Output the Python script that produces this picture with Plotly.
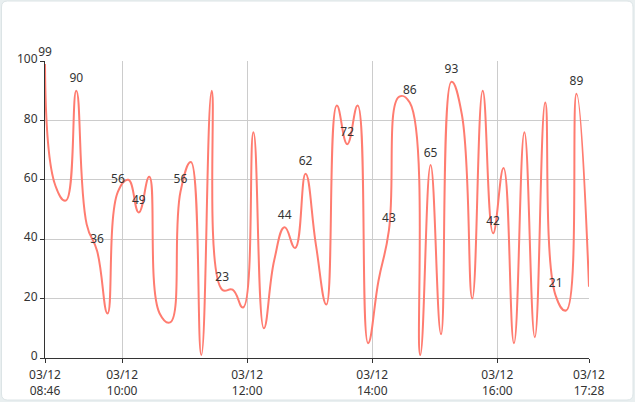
import plotly.graph_objects as go

times = [
    "08:46", "08:56", "09:06", "09:16", "09:26", "09:36", "09:46", "09:56",
    "10:06", "10:16", "10:26", "10:36", "10:46", "10:56", "11:06", "11:16",
    "11:26", "11:36", "11:46", "11:56", "12:06", "12:16", "12:26", "12:36",
    "12:46", "12:56", "13:06", "13:16", "13:26", "13:36", "13:46", "13:56",
    "14:06", "14:16", "14:26", "14:36", "14:46", "14:56", "15:06", "15:16",
    "15:26", "15:36", "15:46", "15:56", "16:06", "16:16", "16:26", "16:36",
    "16:46", "16:56", "17:06", "17:16", "17:28",
]
values = [
    99, 58, 53, 90, 45, 36, 15, 56, 60, 49, 61, 15, 12, 56, 66, 1,
    90, 23, 23, 17, 76, 10, 33, 44, 37, 62, 38, 18, 85, 72, 85, 5,
    26, 43, 88, 86, 1, 65, 8, 93, 82, 20, 90, 42, 64, 5, 76, 7,
    86, 21, 16, 89, 24,
]
labeled_idx = [0, 3, 5, 7, 9, 13, 17, 23, 25, 29, 33, 35, 37, 39, 43, 49, 51]
date = "2024-03-12"
tick_times = ["08:46", "10:00", "12:00", "14:00", "16:00", "17:28"]
tick_text = ["03/12<br>" + t for t in tick_times]
y_ticks = [0, 20, 40, 60, 80, 100]

xs = [f"{date} {t}" for t in times]

fig = go.Figure()
fig.add_trace(go.Scatter(
    x=xs, y=values, mode="lines",
    line=dict(color="#ff7c70", width=2, shape="spline", smoothing=1.3),
    hoverinfo="skip", showlegend=False,
))
fig.add_trace(go.Scatter(
    x=[xs[i] for i in labeled_idx],
    y=[values[i] for i in labeled_idx],
    text=[str(values[i]) for i in labeled_idx],
    mode="markers+text", textposition="top center",
    marker=dict(size=7, opacity=0),
    textfont=dict(size=12, color="#333333", family="Noto Sans"),
    cliponaxis=False, hoverinfo="skip", showlegend=False,
))

W, H = 635, 402
L, R, T, B = 45, 46, 61, 44
pw, ph = W - L - R, H - T - B

def px(xp):
    return (xp - L) / pw

def py(yp):
    return (H - B - yp) / ph

# rounded card background
x0, x1, y0, y1, r = 1.5, 633, 1, 400, 6
path = (
    f"M {px(x0 + r)},{py(y0)} L {px(x1 - r)},{py(y0)} "
    f"Q {px(x1)},{py(y0)} {px(x1)},{py(y0 + r)} "
    f"L {px(x1)},{py(y1 - r)} Q {px(x1)},{py(y1)} {px(x1 - r)},{py(y1)} "
    f"L {px(x0 + r)},{py(y1)} Q {px(x0)},{py(y1)} {px(x0)},{py(y1 - r)} "
    f"L {px(x0)},{py(y0 + r)} Q {px(x0)},{py(y0)} {px(x0 + r)},{py(y0)} Z"
)

fig.update_layout(
    width=W, height=H,
    margin=dict(l=L, r=R, t=T, b=B, autoexpand=False),
    paper_bgcolor="#e9eff0",
    plot_bgcolor="rgba(0,0,0,0)",
    font=dict(family="Noto Sans", size=12, color="#333333"),
    shapes=[dict(type="path", path=path, xref="paper", yref="paper",
                 fillcolor="#ffffff", line=dict(color="#dce4e6", width=1),
                 layer="below")],
    xaxis=dict(
        type="date", automargin=False,
        range=[f"{date} 08:46", f"{date} 17:28"],
        tickvals=[f"{date} {t}" for t in tick_times],
        ticktext=tick_text,
        showgrid=True, gridcolor="#cccccc", gridwidth=1,
        showline=True, linecolor="#333333", linewidth=1,
        ticks="outside", ticklen=4, tickcolor="#333333",
        ticklabelstandoff=2,
        tickfont=dict(size=12, color="#333333"),
        zeroline=False, fixedrange=True,
    ),
    yaxis=dict(
        range=[0, 100], automargin=False,
        tickvals=y_ticks,
        showgrid=True, gridcolor="#cccccc", gridwidth=1,
        showline=True, linecolor="#333333", linewidth=1,
        ticks="outside", ticklen=4, tickcolor="#333333",
        ticklabelshift=-2,
        tickfont=dict(size=12, color="#333333"),
        zeroline=False, fixedrange=True,
    ),
)

fig.write_html("out.html")
